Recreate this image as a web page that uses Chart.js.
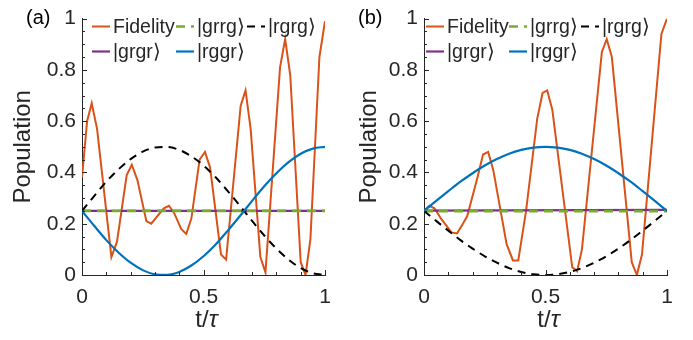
<!DOCTYPE html>
<html>
<head>
<meta charset="utf-8">
<script src="https://cdn.jsdelivr.net/npm/chart.js@4"></script>
<style>
  body { margin: 0; background: #fff; }
  #wrap { position: relative; width: 693px; height: 340px; }
  canvas { position: absolute; top: 0; }
</style>
</head>
<body>
<div id="wrap">
  <canvas id="chartA" width="346" height="340" style="left:0;width:346px;height:340px"></canvas>
  <canvas id="chartB" width="347" height="340" style="left:346px;width:347px;height:340px"></canvas>
</div>
<script>
// dados
const tGrid = [0, 0.05, 0.1, 0.15, 0.2, 0.25, 0.3, 0.35, 0.4, 0.45, 0.5, 0.55, 0.6, 0.65, 0.7, 0.75, 0.8, 0.85, 0.9, 0.95, 1];
const tFlat = [0, 1];

// painel (a)
const tFidA = [0, 0.021, 0.04, 0.062, 0.121, 0.144, 0.184, 0.205, 0.228, 0.265, 0.285, 0.31, 0.337, 0.358, 0.38, 0.408, 0.429, 0.45, 0.484, 0.506, 0.527, 0.572, 0.593, 0.653, 0.673, 0.694, 0.734, 0.755, 0.815, 0.836, 0.857, 0.9, 0.92, 0.94, 0.977, 1];
const fidA  = [0.38, 0.60, 0.67, 0.57, 0.07, 0.13, 0.39, 0.43, 0.37, 0.21, 0.20, 0.23, 0.26, 0.27, 0.24, 0.18, 0.16, 0.22, 0.45, 0.48, 0.42, 0.08, 0.06, 0.66, 0.72, 0.57, 0.07, 0.01, 0.81, 0.92, 0.78, 0.05, 0.0, 0.14, 0.85, 0.99];
const rgrgA = [0.25, 0.308, 0.364, 0.412, 0.452, 0.481, 0.497, 0.499, 0.488, 0.463, 0.427, 0.381, 0.327, 0.270, 0.211, 0.154, 0.103, 0.060, 0.027, 0.007, 0.0];
const rggrA = [0.25, 0.192, 0.136, 0.088, 0.048, 0.019, 0.003, 0.001, 0.012, 0.037, 0.073, 0.119, 0.173, 0.230, 0.289, 0.346, 0.397, 0.440, 0.473, 0.493, 0.5];
const grrgA = [0.25, 0.25];
const grgrA = [0.25, 0.25];

// painel (b)
const tFidB = [0, 0.022, 0.043, 0.07, 0.113, 0.136, 0.16, 0.178, 0.22, 0.243, 0.264, 0.285, 0.34, 0.366, 0.388, 0.42, 0.466, 0.488, 0.507, 0.528, 0.61, 0.63, 0.65, 0.732, 0.752, 0.773, 0.855, 0.876, 0.897, 0.977, 1];
const fidB  = [0.25, 0.27, 0.26, 0.22, 0.166, 0.162, 0.20, 0.23, 0.38, 0.47, 0.48, 0.41, 0.12, 0.057, 0.057, 0.25, 0.61, 0.71, 0.72, 0.645, 0.03, 0.015, 0.10, 0.87, 0.92, 0.85, 0.05, 0.0, 0.08, 0.94, 1.0];
const rgrgB = [0.25, 0.211, 0.173, 0.136, 0.103, 0.073, 0.048, 0.027, 0.012, 0.003, 0.0, 0.003, 0.012, 0.027, 0.048, 0.073, 0.103, 0.136, 0.173, 0.211, 0.25];
const rggrB = [0.25, 0.289, 0.327, 0.364, 0.397, 0.427, 0.452, 0.473, 0.488, 0.497, 0.5, 0.497, 0.488, 0.473, 0.452, 0.427, 0.397, 0.364, 0.327, 0.289, 0.25];
const grrgB = [0.249, 0.249];
const grgrB = [0.251, 0.254];

const xTicks = [0, 0.5, 1];
const yTicks = [0, 0.2, 0.4, 0.6, 0.8, 1];

const AXIS = '#262626';
const FONT = "'Liberation Sans', Arial, Helvetica, sans-serif";
const COL = { fid: '#D95319', grrg: '#77AC30', rgrg: '#000000', grgr: '#7E2F8E', rggr: '#0072BD' };

function pts(ts, vs) {
  return ts.map((t, i) => ({ x: t, y: vs[i] }));
}

function fmt(v) {
  return String(Number(v.toFixed(2)));
}

function makeDatasets(tFid, fid, grrg, rgrg, grgr, rggr) {
  return [
    { label: 'Fidelity', data: pts(tFid, fid), borderColor: COL.fid, borderWidth: 2, tension: 0, order: 5 },
    { label: '|grgr⟩', data: pts(tFlat, grgr), borderColor: COL.grgr, borderWidth: 2.2, order: 4 },
    { label: '|grrg⟩', data: pts(tFlat, grrg), borderColor: COL.grrg, borderWidth: 2.6, borderDash: [9, 6], order: 3 },
    { label: '|rgrg⟩', data: pts(tGrid, rgrg), borderColor: COL.rgrg, borderWidth: 2, borderDash: [8, 6], cubicInterpolationMode: 'monotone', order: 2 },
    { label: '|rggr⟩', data: pts(tGrid, rggr), borderColor: COL.rggr, borderWidth: 2.2, cubicInterpolationMode: 'monotone', order: 1 }
  ];
}

// ticks internos, legenda, título do eixo x e rótulo do painel
const decor = {
  id: 'decor',
  afterDraw(chart, args, o) {
    const { ctx, chartArea: a, scales: { x, y } } = chart;
    ctx.save();
    ctx.strokeStyle = AXIS;
    ctx.lineWidth = 1;
    for (let i = 1; i <= 20; i++) {
      const py = Math.round(y.getPixelForValue(i * 0.05)) + 0.5;
      const len = i % 4 === 0 ? 5 : 3;
      ctx.beginPath(); ctx.moveTo(a.left, py); ctx.lineTo(a.left + len, py); ctx.stroke();
    }
    for (let i = 1; i <= 10; i++) {
      const px = Math.round(x.getPixelForValue(i * 0.1)) + 0.5;
      const len = i % 5 === 0 ? 5 : 3;
      ctx.beginPath(); ctx.moveTo(px, a.bottom); ctx.lineTo(px, a.bottom - len); ctx.stroke();
    }

    // legenda
    ctx.font = '19.5px ' + FONT;
    ctx.textBaseline = 'middle';
    ctx.textAlign = 'left';
    o.items.forEach(it => {
      const ds = chart.data.datasets.find(d => d.label === it.label);
      const ly = it.row === 0 ? 26.5 : 51.5;
      ctx.strokeStyle = ds.borderColor;
      ctx.lineWidth = ds.borderWidth;
      ctx.setLineDash(ds.borderDash || []);
      ctx.beginPath(); ctx.moveTo(it.x - 21, ly); ctx.lineTo(it.x - 3, ly); ctx.stroke();
      ctx.setLineDash([]);
      ctx.fillStyle = AXIS;
      ctx.fillText(it.label, it.x, ly + 1);
    });

    // t/τ com τ em itálico
    ctx.textBaseline = 'alphabetic';
    ctx.fillStyle = AXIS;
    const f1 = '24px ' + FONT, f2 = 'italic 24px ' + FONT;
    ctx.font = f1; const w1 = ctx.measureText('t/').width;
    ctx.font = f2; const w2 = ctx.measureText('τ').width;
    const cx = (a.left + a.right) / 2 + 3;
    const x0 = cx - (w1 + w2) / 2;
    ctx.font = f1; ctx.fillText('t/', x0, 327);
    ctx.font = f2; ctx.fillText('τ', x0 + w1, 327);

    ctx.font = '20px ' + FONT;
    ctx.textBaseline = 'middle';
    ctx.fillStyle = '#000';
    ctx.fillText(o.tag, o.tagX, 18.5);
    ctx.restore();
  }
};

function makeOptions(yWidth, padRight, legendItems, tag, tagX) {
  return {
    responsive: false,
    animation: false,
    events: [],
    layout: { padding: { left: 0, right: padRight, top: 13, bottom: 0 } },
    elements: { point: { radius: 0 }, line: { fill: false } },
    plugins: {
      legend: { display: false },
      tooltip: { enabled: false },
      decor: { items: legendItems, tag: tag, tagX: tagX }
    },
    scales: {
      x: {
        type: 'linear', min: 0, max: 1,
        afterBuildTicks: s => { s.ticks = xTicks.map(v => ({ value: v })); },
        afterFit: s => { s.height = 65; },
        grid: { display: false, drawTicks: false },
        border: { display: true, color: AXIS, width: 1 },
        ticks: { color: AXIS, padding: 10, maxRotation: 0, autoSkip: false, font: { family: FONT, size: 21 }, callback: fmt },
        title: { display: false }
      },
      y: {
        type: 'linear', min: 0, max: 1,
        afterBuildTicks: s => { s.ticks = yTicks.map(v => ({ value: v })); },
        afterFit: s => { s.width = yWidth; },
        grid: { display: false, drawTicks: false },
        border: { display: true, color: AXIS, width: 1 },
        ticks: { color: AXIS, padding: 6, font: { family: FONT, size: 21 }, callback: fmt },
        title: { display: true, text: 'Population', color: AXIS, font: { family: FONT, size: 24 }, padding: { top: 9, bottom: 0 } }
      }
    }
  };
}

const legendA = [
  { label: 'Fidelity', x: 113, row: 0 },
  { label: '|grrg⟩', x: 197, row: 0 },
  { label: '|rgrg⟩', x: 268, row: 0 },
  { label: '|grgr⟩', x: 113, row: 1 },
  { label: '|rggr⟩', x: 197, row: 1 }
];
const legendB = [
  { label: 'Fidelity', x: 101, row: 0 },
  { label: '|grrg⟩', x: 184, row: 0 },
  { label: '|rgrg⟩', x: 256, row: 0 },
  { label: '|grgr⟩', x: 101, row: 1 },
  { label: '|rggr⟩', x: 184, row: 1 }
];

new Chart(document.getElementById('chartA').getContext('2d'), {
  type: 'line',
  data: { datasets: makeDatasets(tFidA, fidA, grrgA, rgrgA, grgrA, rggrA) },
  options: makeOptions(82, 21, legendA, '(a)', 26),
  plugins: [decor]
});

new Chart(document.getElementById('chartB').getContext('2d'), {
  type: 'line',
  data: { datasets: makeDatasets(tFidB, fidB, grrgB, rgrgB, grgrB, rggrB) },
  options: makeOptions(78, 26, legendB, '(b)', 12),
  plugins: [decor]
});
</script>
</body>
</html>
